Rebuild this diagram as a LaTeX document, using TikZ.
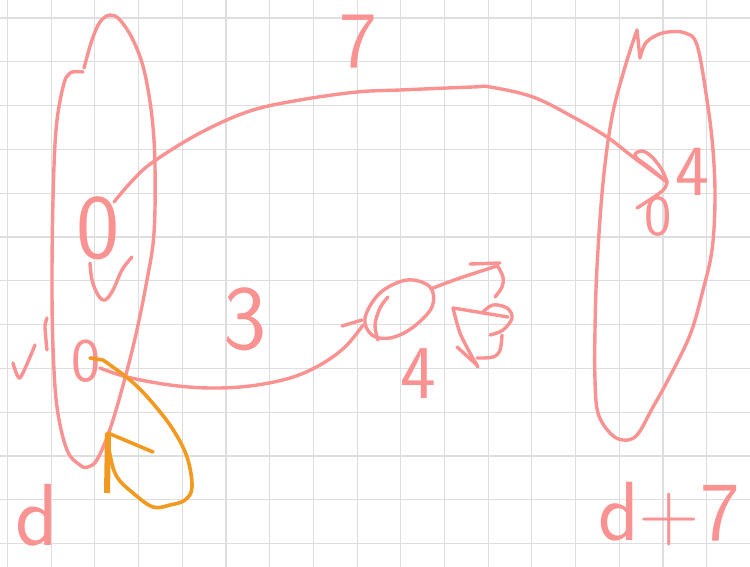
\documentclass[tikz,border=0pt]{standalone}
\usepackage{fontspec}
\definecolor{pinkink}{RGB}{250,146,146}
\definecolor{orangeink}{RGB}{242,154,32}
\definecolor{gridgray}{RGB}{222,222,222}
\begin{document}
\begin{tikzpicture}[x=1pt,y=-1pt,
  ink/.style={draw=pinkink,line width=3.4pt,line cap=round,line join=round},
  oink/.style={draw=orangeink,line width=3.6pt,line cap=round,line join=round},
  lbl/.style={text=pinkink,inner sep=0pt,anchor=base}]
\fill[white] (0,0) rectangle (750,567);
\useasboundingbox (0,0) rectangle (750,567);
% grid
\foreach \k in {0,...,17} {\draw[gridgray,line width=1.1pt] ({7.5+43.7*\k},0) -- ({7.5+43.7*\k},567);}
\foreach \k in {0,...,12} {\draw[gridgray,line width=1.1pt] (0,{18+43.8*\k}) -- (750,{18+43.8*\k});}

% left tall loop
\draw[ink] plot[smooth,tension=0.6] coordinates {(83,72) (70,73) (63,87) (56,130) (53,200) (52,280) (53,347) (57,407) (67,450) (80,465) (88,467) (98,458) (113,420) (133,347) (147,280) (154,233) (155,167) (152,117) (144,70) (133,40) (120,20) (110,15) (100,22) (92,40) (84,68)};

% right tall loop
\draw[ink] plot[smooth,tension=0.6] coordinates {(640,58) (645,44) (655,36) (668,32) (685,33) (697,45) (707,100) (713,150) (715,200) (712,250) (703,290) (690,335) (668,380) (653,407) (637,435) (623,440) (610,433) (598,413) (595,380) (595,330) (597,267) (603,183) (612,117) (625,67) (637,30)} -- (640,58);

% labels
\node[lbl,font=\sffamily\fontsize{80}{80}\selectfont] (t7) at (358,68) {7};
\node[lbl,font=\sffamily\fontsize{92}{92}\selectfont] (t3) at (245,349) {3};
\node[lbl,font=\sffamily\fontsize{92}{92}\selectfont] (z1) at (98,258) {0};
\node[lbl,font=\sffamily\fontsize{62}{62}\selectfont] (z2) at (86,381) {0};
\node[lbl,font=\sffamily\fontsize{88}{88}\selectfont] (dl) at (37,545) {d};
\node[lbl,font=\sffamily\fontsize{84}{84}\selectfont] (dr) at (669,540) {d+7};
\node[lbl,font=\sffamily\fontsize{58}{58}\selectfont] (z3) at (658,235) {0};
\node[lbl,font=\sffamily\fontsize{72}{72}\selectfont] (f1) at (692,196) {4};
\node[lbl,font=\sffamily\fontsize{76}{76}\selectfont] (f2) at (418,398) {4};

% big arc from left 0 to right side
\coordinate (arcS) at (114,202);
\coordinate (arcE) at (667,182);
\draw[ink] plot[smooth,tension=0.6] coordinates {(arcS) (132,181) (153,162) (200,133) (250,111) (300,100) (357,92) (400,90) (473,87) (490,87) (533,97) (573,117) (607,137) (633,157) (arcE)};
% leaf arrow head and hook
\draw[ink] plot[smooth,tension=0.6] coordinates {(arcE) (662,170) (652,157) (642,151) (635,156) (650,168) (arcE)};
\draw[ink] plot[smooth,tension=0.6] coordinates {(arcE) (665,188) (657,195) (637,208)};

% small u stroke under left 0
\draw[ink] plot[smooth,tension=0.6] coordinates {(90,263) (92,280) (98,295) (105,300) (113,290) (122,270) (132,257)};

% check mark and bar at left
\draw[ink] plot[smooth,tension=0.4] coordinates {(13,363) (20,378) (35,345)};
\draw[ink] plot[smooth,tension=0.5] coordinates {(47,318) (45,326) (46,340) (47,350)};

% lower curve from lower 0 to the middle
\coordinate (midS) at (100,368);
\coordinate (midE) at (363,325);
\draw[ink] plot[smooth,tension=0.6] coordinates {(midS) (127,377) (170,385) (210,388) (250,386) (290,378) (320,365) (345,347) (midE)};
\draw[ink] (342,326) -- (362,320);
\draw[ink] plot[smooth,tension=0.6] coordinates {(388,297) (380,308) (375,325) (378,340)};
\draw[ink] plot[smooth cycle,tension=0.6] coordinates {(365,318) (380,293) (407,280) (430,287) (432,307) (412,328) (390,338) (372,335)};
\draw[ink] plot[smooth,tension=0.5] coordinates {(433,288) (460,278) (497,266)};
% scribbled 3 with arrow
\draw[ink] (470,264) -- (500,263);
\draw[ink] plot[smooth,tension=0.6] coordinates {(497,265) (503,277) (502,287) (495,297)};
\draw[ink] (453,308) -- (508,317);
\draw[ink] plot[smooth,tension=0.6] coordinates {(483,312) (493,305) (507,308) (512,318) (503,330) (490,335)};
\draw[ink] plot[smooth,tension=0.5] coordinates {(453,308) (460,333) (470,353) (478,367)};
\draw[ink] (457,347) -- (477,365);
\draw[ink] plot[smooth,tension=0.6] coordinates {(502,335) (500,350) (493,357) (477,358)};

% orange arrow
\coordinate (oS) at (90,358);
\coordinate (oT) at (108,433);
\draw[oink] (oS) -- (103,360) plot[smooth,tension=0.6] coordinates {(103,360) (130,380) (150,400) (172,428) (187,457) (192,487) (185,500) (170,505) (153,507) (133,493) (117,477) (110,455) (oT)};
\draw[oink,line width=6pt,line cap=butt] (oT) -- (107,493);
\draw[oink] (oT) -- (153,452);
\end{tikzpicture}
\end{document}
